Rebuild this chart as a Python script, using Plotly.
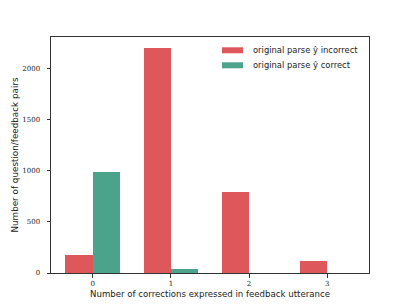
import plotly.graph_objects as go

categories = [0, 1, 2, 3]
incorrect = [176, 2200, 790, 113]
correct = [989, 42, 0, 0]
series_names = ["original parse ŷ incorrect", "original parse ŷ correct"]
colors = ["#DE585B", "#4BA38C"]
bar_w = 0.35

fig = go.Figure()
fig.add_trace(go.Bar(x=[c - bar_w / 2 for c in categories], y=incorrect, width=bar_w,
                     marker=dict(color=colors[0], line=dict(width=0)), name=series_names[0]))
fig.add_trace(go.Bar(x=[c + bar_w / 2 for c in categories], y=correct, width=bar_w,
                     marker=dict(color=colors[1], line=dict(width=0)), name=series_names[1]))

# page body has an 8px margin; compensate so the plot area lands at the reference position
OFF = 8
W, H = 409 - OFF, 307 - OFF
L, R, T, B = 51 - OFF, 40, 37 - OFF, 34
pw, ph = W - L - R, H - T - B

def px_x(x):
    return (x - OFF - L) / pw
def px_y(y):
    return 1 - (y - OFF - T) / ph

shapes = []
annotations = []
for i, (name, col) in enumerate(zip(series_names, colors)):
    yc = 50.3 + i * 15
    shapes.append(dict(type="rect", xref="paper", yref="paper",
                       x0=px_x(222), x1=px_x(243), y0=px_y(yc + 3), y1=px_y(yc - 3),
                       fillcolor=col, line=dict(width=0)))
    annotations.append(dict(xref="paper", yref="paper", x=px_x(251), y=px_y(yc),
                            text=name, showarrow=False, xanchor="left", yanchor="middle",
                            font=dict(family="DejaVu Sans", size=8.4, color="#222")))

fig.update_layout(
    width=W, height=H,
    margin=dict(l=L, r=R, t=T, b=B),
    plot_bgcolor="white", paper_bgcolor="white",
    showlegend=False, barmode="overlay", bargap=0,
    shapes=shapes, annotations=annotations,
    xaxis=dict(range=[-0.535, 3.535], tickvals=categories, ticktext=[str(c) for c in categories],
               automargin=False,
               showline=True, linecolor="#333", linewidth=1, mirror=True,
               ticks="outside", ticklen=3.5, tickcolor="#333", showgrid=False, zeroline=False,
               tickfont=dict(family="DejaVu Serif", size=7, color="#222"),
               title=dict(text="Number of corrections expressed in feedback utterance", standoff=4,
                          font=dict(family="DejaVu Sans", size=8.6, color="#222"))),
    yaxis=dict(range=[0, 2310], tickvals=[0, 500, 1000, 1500, 2000],
               automargin=False, ticklabelstandoff=5,
               showline=True, linecolor="#333", linewidth=1, mirror=True,
               ticks="outside", ticklen=3.5, tickcolor="#333", showgrid=False, zeroline=False,
               tickfont=dict(family="DejaVu Serif", size=7, color="#222"),
               title=dict(text="Number of question/feedback pairs", standoff=2,
                          font=dict(family="DejaVu Sans", size=8.8, color="#222"))),
)

fig.write_html("out.html")
